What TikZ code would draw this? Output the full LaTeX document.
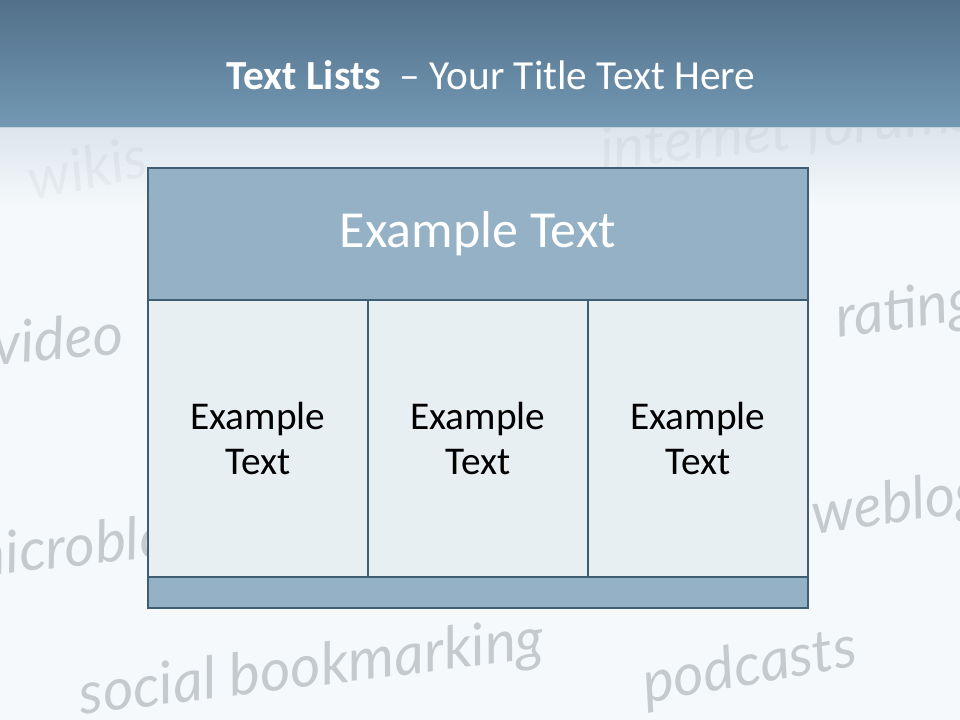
\documentclass[tikz,border=0pt]{standalone}
\usepackage{fontspec}
\setmainfont{Carlito}
\newfontfamily\handfont{Lato}
\usetikzlibrary{positioning}

\definecolor{bandtop}{HTML}{52708A}
\definecolor{bandbot}{HTML}{7399B4}
\definecolor{fadetop}{HTML}{D6E1E9}
\definecolor{pagebg}{HTML}{F5F9FB}
\definecolor{tableedge}{HTML}{3F5E74}
\definecolor{headfill}{HTML}{94B1C6}
\definecolor{cellfill}{HTML}{E8EFF3}
\definecolor{wordgray}{HTML}{C5CACE}

\begin{document}
\begin{tikzpicture}[
x=0.75pt, y=-0.75pt,
box/.style={draw=tableedge, line width=2.2pt, anchor=north west, inner sep=0pt, outer sep=0pt, align=center},
headbox/.style={box, fill=headfill, minimum width=495pt, minimum height=99pt,
  text=white, font=\fontsize{39}{47}\selectfont},
cellbox/.style={box, fill=cellfill, minimum width=165pt, minimum height=207.75pt,
  font=\fontsize{29.5}{34}\selectfont},
footbox/.style={box, fill=headfill, minimum width=495pt, minimum height=23.25pt},
word/.style={text=wordgray, inner sep=0pt, font=\handfont\itshape\fontsize{44}{46}\selectfont}
]

% --- Fond ---
\fill[pagebg] (0,0) rectangle (960,720);
\useasboundingbox (0,0) rectangle (960,720);

% --- Mots en filigrane ---
\node[word, rotate=12, anchor=west] (wikis) at (28,180) {wikis};
\node[word, rotate=6, anchor=west] (forums) at (600,152) {internet forums};
\node[word, rotate=5, anchor=west] (video) at (-8,344) {video};
\node[word, rotate=8, anchor=west] (ratings) at (836,322) {ratings};
\node[word, rotate=6, anchor=west] (microblogs) at (-40,562) {microblogs};
\node[word, rotate=8, anchor=west] (weblogs) at (812,518) {weblogs};
\node[word, rotate=7] (bookmarking) at (312,670) {social bookmarking};
\node[word, rotate=10] (podcasts) at (750,668) {podcasts};

% --- Bandeau du titre ---
\shade[top color=bandtop, bottom color=bandbot] (0,0) rectangle (960,128);
\shade[top color=fadetop, bottom color=pagebg, opacity=0.8] (0,128) rectangle (960,205);
\node[text=white, font=\fontsize{31}{36}\selectfont] (title) at (491,75)
  {\textbf{Text Lists}\ \ – Your Title Text Here};

% --- Tableau ---
\node[headbox] (header) at (148,168) {Example Text};
\node[cellbox] (cellA) at (header.south west) {Example\\Text};
\node[cellbox] (cellB) at (cellA.north east) {Example\\Text};
\node[cellbox] (cellC) at (cellB.north east) {Example\\Text};
\node[footbox] (footer) at (cellA.south west) {};

\end{tikzpicture}
\end{document}
